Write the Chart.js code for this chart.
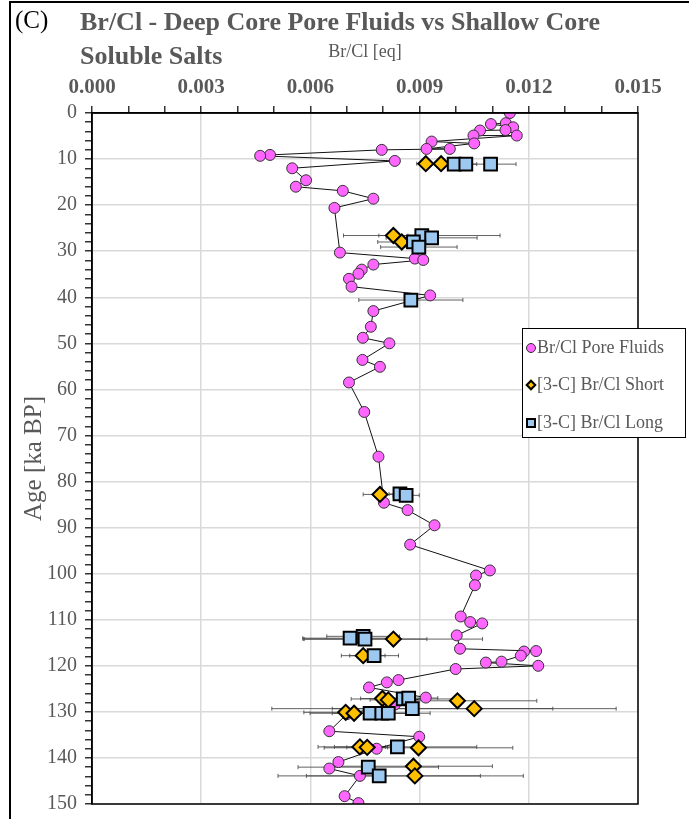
<!DOCTYPE html>
<html lang="en">
<head>
    <meta charset="UTF-8">
    <title>Br/Cl - Deep Core Pore Fluids vs Shallow Core Soluble Salts</title>
    <style>
        body {
            margin: 0;
            background: #fff;
            font-family: "Liberation Serif", "DejaVu Serif", serif;
        }

        #wrap {
            position: relative;
            width: 689px;
            height: 819px;
            overflow: hidden;
        }

        #frame {
            position: absolute;
            left: 9px;
            top: 1px;
            width: 700px;
            height: 900px;
            border-left: 2px solid #000;
            border-top: 2px solid #000;
        }

        #tag {
            position: absolute;
            left: 15px;
            top: 6px;
            font-size: 25px;
            color: #000;
        }

        #title {
            position: absolute;
            left: 80px;
            top: 5px;
            font-size: 26px;
            font-weight: bold;
            line-height: 34px;
            color: #595959;
        }

        canvas {
            position: absolute;
            left: 0;
            top: 0;
        }

        #legend {
            position: absolute;
            left: 522px;
            top: 328px;
            width: 162px;
            height: 108px;
            background: #fff;
            border: 1px solid #000;
            color: #595959;
            font-size: 18px;
        }

        .row {
            position: absolute;
            left: 3px;
            display: flex;
            align-items: center;
            white-space: nowrap;
        }

        .mk {
            display: inline-block;
            box-sizing: border-box;
            margin-right: 1px;
        }

        .mk.circle {
            width: 10px;
            height: 10px;
            border-radius: 50%;
            background: #ff66ff;
            border: 1px solid #333;
        }

        .mk.diamond {
            width: 8px;
            height: 8px;
            margin: 0 2px 0 1px;
            transform: rotate(45deg);
            background: #ffc000;
            border: 2px solid #000;
        }

        .mk.square {
            width: 10px;
            height: 10px;
            background: #9dc8f0;
            border: 2px solid #000;
        }
    </style>
    <script src="https://cdn.jsdelivr.net/npm/chart.js"></script>
</head>
<body>
<div id="wrap">
    <canvas id="chart" width="689" height="819"></canvas>
    <div id="frame"></div>
    <div id="tag">(C)</div>
    <div id="title">Br/Cl - Deep Core Pore Fluids vs Shallow Core<br>Soluble Salts</div>
    <div id="legend">
        <div class="row" style="top:8px"><span class="mk circle"></span>Br/Cl Pore Fluids</div>
        <div class="row" style="top:45px"><span class="mk diamond"></span>[3-C] Br/Cl Short</div>
        <div class="row" style="top:83px"><span class="mk square"></span>[3-C] Br/Cl Long</div>
    </div>
</div>

<script>
    // Br/Cl pore fluids (deep core)
    const poreAge = [0.0, 2.2, 2.4, 3.1, 3.7, 3.8, 4.9, 4.9, 6.2, 6.6, 7.8, 7.8, 8.0, 9.1, 9.3, 10.4, 12.0, 14.6, 16.0, 16.9,
        18.6, 20.6, 30.3, 31.6, 31.9, 32.9, 34.0, 34.9, 36.0, 37.7, 39.6, 43.0, 46.4, 48.8, 50.0, 53.6, 55.1, 58.5, 64.9, 74.6,
        84.6, 86.2, 89.5, 93.7, 99.3, 100.4, 102.5, 109.3, 110.5, 110.8, 113.4, 116.3, 116.8, 116.9, 117.8, 119.1, 119.3, 120.0,
        120.7, 123.1, 123.6, 124.7, 126.9, 128.4, 130.5, 134.2, 135.4, 138.0, 140.9, 142.3, 143.9, 148.3, 149.8];
    const poreBrCl = [0.01148, 0.01137, 0.01096, 0.01157, 0.01136, 0.01066, 0.01048, 0.01167, 0.00933, 0.01050, 0.00919, 0.00983,
        0.00796, 0.00489, 0.00462, 0.00832, 0.00550, 0.00588, 0.00560, 0.00689, 0.00773, 0.00666, 0.00681, 0.00887, 0.00910,
        0.00773, 0.00741, 0.00732, 0.00706, 0.00713, 0.00929, 0.00773, 0.00766, 0.00744, 0.00817, 0.00743, 0.00791, 0.00706,
        0.00748, 0.00787, 0.00802, 0.00867, 0.00941, 0.00874, 0.01093, 0.01055, 0.01052, 0.01013, 0.01039, 0.01072, 0.01002,
        0.01011, 0.01220, 0.01187, 0.01178, 0.01125, 0.01082, 0.01226, 0.00999, 0.00842, 0.00810, 0.00761, 0.00917, 0.00832,
        0.00700, 0.00652, 0.00899, 0.00782, 0.00677, 0.00652, 0.00736, 0.00694, 0.00732];

    // [3-C] short
    const shortAge = [11.0, 11.0, 26.6, 28.0, 82.8, 114.2, 117.8, 127.1, 127.4, 127.6, 129.3, 130.1, 130.3, 137.6, 137.7, 137.8, 141.8, 143.9];
    const shortBrCl = [0.00917, 0.00959, 0.00828, 0.00851, 0.00791, 0.00828, 0.00745, 0.00798, 0.00814, 0.01004, 0.01050,
        0.00697, 0.00720, 0.00736, 0.00756, 0.00897, 0.00883, 0.00887];
    const shortErr = [0.00025, 0, 0.0004, 0.00066, 0.00046, 0.00245, 0.0006, 0.0006, 0.0005, 0.00218, 0.0039,
        0.00115, 0.0006, 0.0007, 0.00056, 0.00259, 0.00217, 0.00298];

    // [3-C] long
    const longAge = [11.1, 11.1, 11.1, 26.6, 27.1, 28.0, 29.1, 40.6, 82.7, 83.0, 114.0, 113.6, 114.2, 117.8, 127.2, 127.0,
        129.3, 130.3, 130.3, 130.3, 137.6, 142.0, 143.9];
    const longBrCl = [0.00995, 0.01027, 0.01095, 0.00906, 0.00933, 0.00883, 0.00898, 0.00876, 0.00846, 0.00863, 0.00709,
        0.00745, 0.00750, 0.00775, 0.00855, 0.00870, 0.00880, 0.00764, 0.00796, 0.00814, 0.00839, 0.00759, 0.00789];
    const longErr = [0.0003, 0.0003, 0.0007, 0.00215, 0.00125, 0.0005, 0.00105, 0.00143, 0.0003, 0.00036, 0.0013,
        0.001, 0.0017, 0.00067, 0.00143, 0.0008, 0.00386, 0.00165, 0.0007, 0.0005, 0.00218, 0.00193, 0.00278];

    const xTickStep = 0.001;
    const xLabelEvery = 3;
    const yTickStep = 2;
    const yLabelEvery = 10;

    const grey = '#595959';

    function pts(xs, ys) {
        return xs.map((x, i) => ({ x: x, y: ys[i] }));
    }

    // horizontal error bars, drawn under the markers
    const errorBars = {
        id: 'errorBars',
        beforeDatasetsDraw(chart) {
            const ctx = chart.ctx;
            const xs = chart.scales.x, ys = chart.scales.y;
            ctx.save();
            ctx.strokeStyle = 'rgba(70,70,70,0.85)';
            ctx.lineWidth = 1;
            chart.data.datasets.forEach(ds => {
                if (!ds.xErr) return;
                ds.data.forEach((p, i) => {
                    const e = ds.xErr[i];
                    if (!e) return;
                    const x0 = xs.getPixelForValue(p.x - e);
                    const x1 = xs.getPixelForValue(p.x + e);
                    const y = ys.getPixelForValue(p.y);
                    ctx.beginPath();
                    ctx.moveTo(x0, y);
                    ctx.lineTo(x1, y);
                    ctx.moveTo(x0, y - 2);
                    ctx.lineTo(x0, y + 2);
                    ctx.moveTo(x1, y - 2);
                    ctx.lineTo(x1, y + 2);
                    ctx.stroke();
                });
            });
            ctx.restore();
        },
        afterDraw(chart) {
            // box round the plot
            const a = chart.chartArea;
            const ctx = chart.ctx;
            ctx.save();
            ctx.strokeStyle = '#000';
            ctx.lineWidth = 1.5;
            ctx.strokeRect(a.left, a.top, a.right - a.left, a.bottom - a.top);
            ctx.restore();
        }
    };

    new Chart(document.getElementById('chart'), {
        type: 'scatter',
        data: {
            datasets: [
                {
                    label: '[3-C] Br/Cl Long',
                    data: pts(longBrCl, longAge),
                    xErr: longErr,
                    pointStyle: 'rect',
                    pointRadius: 9,
                    backgroundColor: '#9dc8f0',
                    borderColor: '#000',
                    borderWidth: 2,
                    showLine: false
                },
                {
                    label: '[3-C] Br/Cl Short',
                    data: pts(shortBrCl, shortAge),
                    xErr: shortErr,
                    pointStyle: 'rectRot',
                    pointRadius: 7.5,
                    backgroundColor: '#ffc000',
                    borderColor: '#000',
                    borderWidth: 2,
                    showLine: false
                },
                {
                    label: 'Br/Cl Pore Fluids',
                    data: pts(poreBrCl, poreAge),
                    pointStyle: 'circle',
                    pointRadius: 5.5,
                    pointBackgroundColor: '#ff66ff',
                    pointBorderColor: '#333',
                    pointBorderWidth: 1,
                    borderColor: '#111',
                    borderWidth: 1,
                    showLine: true,
                    tension: 0
                }
            ]
        },
        options: {
            responsive: false,
            animation: false,
            layout: { padding: { left: 16, top: 40, right: 51, bottom: 15 } },
            plugins: {
                legend: { display: false },
                tooltip: { enabled: false }
            },
            scales: {
                x: {
                    type: 'linear',
                    position: 'top',
                    min: 0,
                    max: 0.015,
                    afterFit: s => { s.height = 73; },
                    ticks: {
                        stepSize: xTickStep,
                        padding: 6,
                        color: grey,
                        font: { family: 'Liberation Serif', size: 21, weight: 'bold' },
                        autoSkip: false,
                        maxRotation: 0,
                        callback: v => Math.round(v / xTickStep) % xLabelEvery === 0 ? v.toFixed(3) : ''
                    },
                    grid: {
                        tickLength: 7,
                        lineWidth: 1.5,
                        color: c => Math.round(c.tick.value / xTickStep) % xLabelEvery === 0 ? '#d9d9d9' : 'rgba(0,0,0,0)',
                        tickColor: '#333'
                    },
                    border: { color: '#000', width: 1.5 },
                    title: {
                        display: true,
                        text: 'Br/Cl [eq]',
                        color: grey,
                        font: { family: 'Liberation Serif', size: 18 },
                        padding: { top: 1, bottom: 0 }
                    }
                },
                y: {
                    type: 'linear',
                    reverse: true,
                    min: 0,
                    max: 150,
                    afterFit: s => {
                        s.width = 76;
                        s.paddingTop = 0;
                        s.paddingBottom = 0;
                    },
                    ticks: {
                        stepSize: yTickStep,
                        padding: 8,
                        color: grey,
                        font: { family: 'Liberation Serif', size: 20 },
                        autoSkip: false,
                        callback: v => v % yLabelEvery === 0 ? String(v) : ''
                    },
                    grid: {
                        tickLength: 7,
                        lineWidth: 1.5,
                        color: c => c.tick.value % yLabelEvery === 0 ? '#d9d9d9' : 'rgba(0,0,0,0)',
                        tickColor: '#333'
                    },
                    border: { color: '#000', width: 1.5 },
                    title: {
                        display: true,
                        text: 'Age [ka BP]',
                        color: grey,
                        font: { family: 'Liberation Serif', size: 25 },
                        padding: { top: 3, bottom: 0 }
                    }
                }
            }
        },
        plugins: [errorBars]
    });
</script>
</body>
</html>
